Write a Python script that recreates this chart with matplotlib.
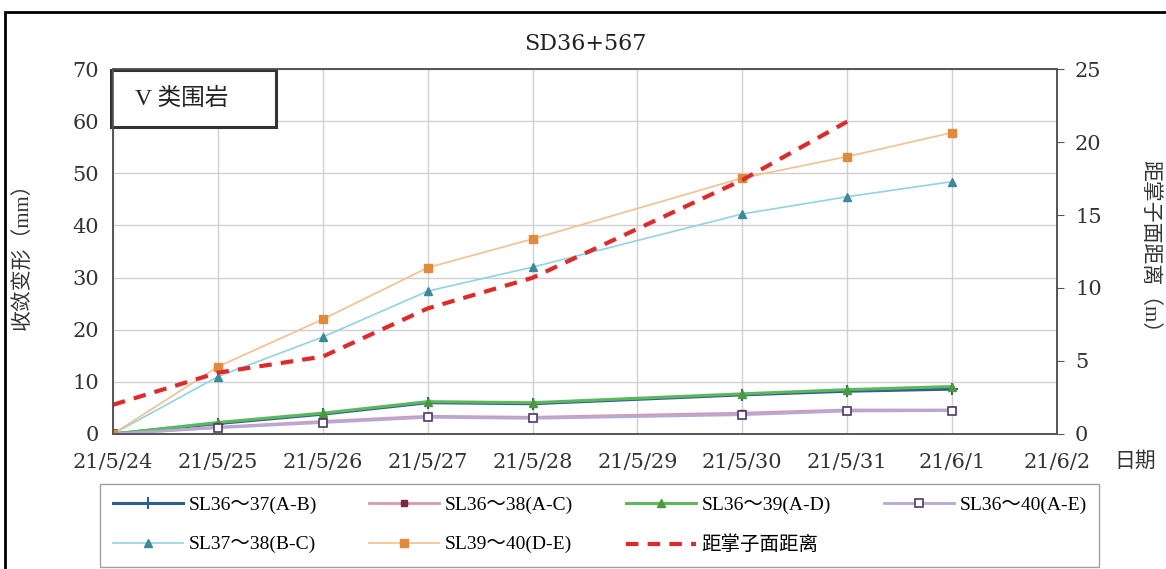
import datetime as dt
import matplotlib
matplotlib.use("Agg")
import matplotlib.pyplot as plt
from matplotlib.patches import Rectangle

plt.rcParams['font.family'] = ['Liberation Serif', 'Noto Sans CJK SC', 'DejaVu Sans']
NUM_FONT = ['DejaVu Serif', 'Noto Sans CJK SC']

# 数据
dates = ["2021-05-24", "2021-05-25", "2021-05-26", "2021-05-27", "2021-05-28",
         "2021-05-30", "2021-05-31", "2021-06-01"]
sl36_37 = [0, 2.0, 3.8, 6.0, 5.8, 7.5, 8.2, 8.6]
sl36_38 = [0, 1.3, 2.4, 3.4, 3.2, 4.0, 4.6, 4.6]
sl36_39 = [0, 2.2, 4.0, 6.2, 6.0, 7.7, 8.5, 9.1]
sl36_40 = [0, 1.2, 2.2, 3.2, 3.0, 3.7, 4.4, 4.5]
sl37_38 = [0, 11.0, 18.6, 27.4, 32.0, 42.2, 45.5, 48.4]
sl39_40 = [0, 12.9, 22.0, 31.9, 37.4, 49.1, 53.2, 57.8]
face_dates = ["2021-05-24", "2021-05-25", "2021-05-26", "2021-05-27", "2021-05-28",
              "2021-05-30", "2021-05-31"]
face_dist = [2.0, 4.2, 5.3, 8.6, 10.7, 17.4, 21.4]

tick_dates = ["2021-05-24", "2021-05-25", "2021-05-26", "2021-05-27", "2021-05-28",
              "2021-05-29", "2021-05-30", "2021-05-31", "2021-06-01", "2021-06-02"]
tick_labels = ["21/5/24", "21/5/25", "21/5/26", "21/5/27", "21/5/28",
               "21/5/29", "21/5/30", "21/5/31", "21/6/1", "21/6/2"]

def to_dt(lst):
    return [dt.datetime.strptime(s, "%Y-%m-%d") for s in lst]

x = to_dt(dates)
xf = to_dt(face_dates)
xt = to_dt(tick_dates)

fig = plt.figure(figsize=(11.66, 5.69), dpi=100)
ax = fig.add_axes([0.0969, 0.2373, 0.8096, 0.6414])

# 外框
fig.patches.append(Rectangle((5 / 1166, -0.01), 1.2, (569 - 12) / 569 + 0.01,
                             transform=fig.transFigure, fill=False,
                             edgecolor='black', linewidth=2))

l1, = ax.plot(x, sl36_37, color='#2f5f8f', lw=2.2, marker='+', ms=8, mew=1.5,
              label='SL36～37(A-B)')
l2, = ax.plot(x, sl36_38, color='#d99aa8', lw=2.0, marker='s', ms=4,
              mfc='#7a2a3a', mec='#7a2a3a', label='SL36～38(A-C)')
l3, = ax.plot(x, sl36_39, color='#5cb85c', lw=2.2, marker='^', ms=6,
              mfc='#4a9a3a', mec='#4a9a3a', label='SL36～39(A-D)')
l4, = ax.plot(x, sl36_40, color='#b8a8d8', lw=2.0, marker='s', ms=6,
              mfc='white', mec='#4a3a6a', mew=1.2, label='SL36～40(A-E)')
l5, = ax.plot(x, sl37_38, color='#8fd4e0', lw=1.2, marker='^', ms=6,
              mfc='#3a8a9a', mec='#3a8a9a', label='SL37～38(B-C)')
l6, = ax.plot(x, sl39_40, color='#f2c08e', lw=1.2, marker='s', ms=6,
              mfc='#e08a3a', mec='#e08a3a', label='SL39～40(D-E)')

ax2 = ax.twinx()
l7, = ax2.plot(xf, face_dist, color='#e02a2a', lw=3, ls=(0, (3, 2.2)),
               label='距掌子面距离')

ax.set_xlim(xt[0], xt[-1])
ax.set_ylim(0, 70)
ax2.set_ylim(0, 25)
ax.set_yticks(range(0, 71, 10))
ax2.set_yticks(range(0, 26, 5))
ax.set_xticks(xt)
ax.set_xticklabels(tick_labels)
ax.tick_params(axis='both', length=0, colors='#333333')
ax.tick_params(axis='x', pad=14)
ax.tick_params(axis='y', pad=10)
ax2.tick_params(axis='y', length=5, direction='out', colors='#555555',
                labelcolor='#333333', pad=8)
for lab in ax.get_xticklabels() + ax.get_yticklabels() + ax2.get_yticklabels():
    lab.set_fontfamily(NUM_FONT)
    lab.set_fontsize(15)
ax.grid(True, color='#d0d0d0', lw=1)
ax.set_axisbelow(True)

for a in (ax, ax2):
    for s in a.spines.values():
        s.set_color('#555555')
        s.set_linewidth(1.2)

ax.set_ylabel('收敛变形（mm）', fontsize=15, color='#333333', va='center')
ax.yaxis.set_label_coords(-0.096, 0.5)
ax2.set_ylabel('距掌子面距离（m）', fontsize=15, color='#333333', rotation=-90,
               va='center')
ax2.yaxis.set_label_coords(1.098, 0.5)
ax.set_title('SD36+567', fontsize=16, color='#222222', pad=14,
             fontfamily=NUM_FONT)

fig.text(1135 / 1166, (569 - 462) / 569, '日期', fontsize=15, color='#333333',
         ha='center', va='center')

# V 类围岩 标注框
ax.add_patch(Rectangle((-0.002, 0.841), 0.175, 0.156, transform=ax.transAxes,
                       fc='white', ec='#333333', lw=2.2, zorder=5, clip_on=False))
ax.text(0.023, 0.919, 'V 类围岩', transform=ax.transAxes, fontsize=17,
        va='center', ha='left', color='#222222', zorder=6)

handles = [l1, l5, l2, l6, l3, l7, l4]
fig.legend(handles=handles, labels=[h.get_label() for h in handles],
           loc='upper left', bbox_to_anchor=(100 / 1166, (569 - 484) / 569),
           ncol=4, fontsize=14, frameon=True, fancybox=False, edgecolor='#888888',
           handlelength=3.6, handletextpad=0.3, columnspacing=2.7,
           borderpad=0.65, labelspacing=1.1, borderaxespad=0)

fig.savefig('out.png', dpi=100)
